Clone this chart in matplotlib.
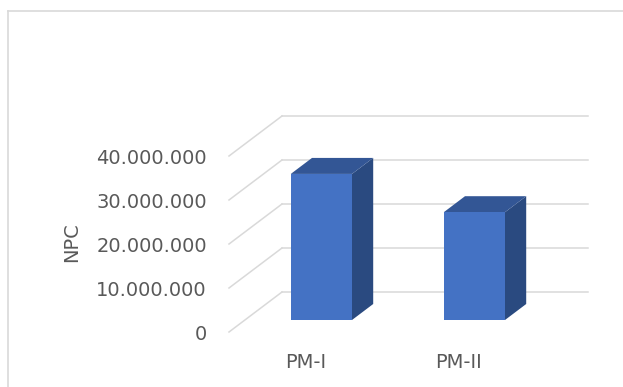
import numpy as np
import matplotlib
matplotlib.use('Agg')
import matplotlib.pyplot as plt
from matplotlib.patches import Polygon, Rectangle
from matplotlib.lines import Line2D

# NPC per project
categories = ['PM-I', 'PM-II']
npc = [33200000, 24500000]
yticks = [0, 10000000, 20000000, 30000000, 40000000]

front_col = '#4472C4'
top_col = '#335695'
side_col = '#2A4A80'
grid_col = '#D9D9D9'
text_col = '#595959'

fig = plt.figure(figsize=(6.23, 3.87), dpi=100)
W, H = 623.0, 387.0
# front plane of the box in pixels: x 229..535, y 156 (40M) .. 332 (0)
ax = fig.add_axes([229 / W, (H - 332) / H, 306 / W, 176 / H])
ax.set_xlim(-0.5, 1.5)
ax.set_ylim(0, 40000000)

# oblique depth offset for the whole floor (depth 0 -> 1)
ddx = 53 / 306 * 2.0
ddy = 40 / 176 * 40000000

# walls: slanted side lines and back gridlines
for v in yticks:
    ax.plot([-0.5, -0.5 + ddx], [v, v + ddy], color=grid_col, lw=1.1, clip_on=False, zorder=1)
    ax.plot([-0.5 + ddx, 1.5 + ddx], [v + ddy, v + ddy], color=grid_col, lw=1.1, clip_on=False, zorder=1)

# 3d-looking bars, occupying depth 0.3..0.7
hw = 0.2
d0, d1 = 0.3, 0.7
for i, v in enumerate(npc):
    x0 = i - hw + d0 * ddx
    x1 = i + hw + d0 * ddx
    y0 = d0 * ddy
    y1 = v + d0 * ddy
    ox = (d1 - d0) * ddx
    oy = (d1 - d0) * ddy
    side = Polygon([(x1, y0), (x1 + ox, y0 + oy), (x1 + ox, y1 + oy), (x1, y1)],
                   closed=True, facecolor=side_col, edgecolor='none', clip_on=False, zorder=3)
    top = Polygon([(x0, y1), (x1, y1), (x1 + ox, y1 + oy), (x0 + ox, y1 + oy)],
                  closed=True, facecolor=top_col, edgecolor='none', clip_on=False, zorder=3)
    front = Rectangle((x0, y0), x1 - x0, y1 - y0, facecolor=front_col,
                      edgecolor='none', clip_on=False, zorder=4)
    ax.add_patch(side)
    ax.add_patch(top)
    ax.add_patch(front)

for s in ax.spines.values():
    s.set_visible(False)
ax.patch.set_visible(False)

ax.set_yticks(yticks)
ax.set_yticklabels(['{:,}'.format(t).replace(',', '.') for t in yticks])
ax.set_xticks(range(len(categories)))
ax.set_xticklabels(categories)
ax.tick_params(axis='y', length=0, pad=16, labelsize=14, labelcolor=text_col)
ax.tick_params(axis='x', length=0, pad=15, labelsize=14, labelcolor=text_col)

ax.set_ylabel('NPC', fontsize=14, color=text_col)
ax.yaxis.set_label_coords(-0.482, 0.511)

# outer chart border, only its top and left edges fall inside the image
bx, by = 7.5 / W, 1 - 10.5 / H
fig.add_artist(Line2D([bx, 1.0], [by, by], transform=fig.transFigure, color=grid_col, lw=1.2))
fig.add_artist(Line2D([bx, bx], [0.0, by], transform=fig.transFigure, color=grid_col, lw=1.2))

fig.savefig('out.png', dpi=100)
